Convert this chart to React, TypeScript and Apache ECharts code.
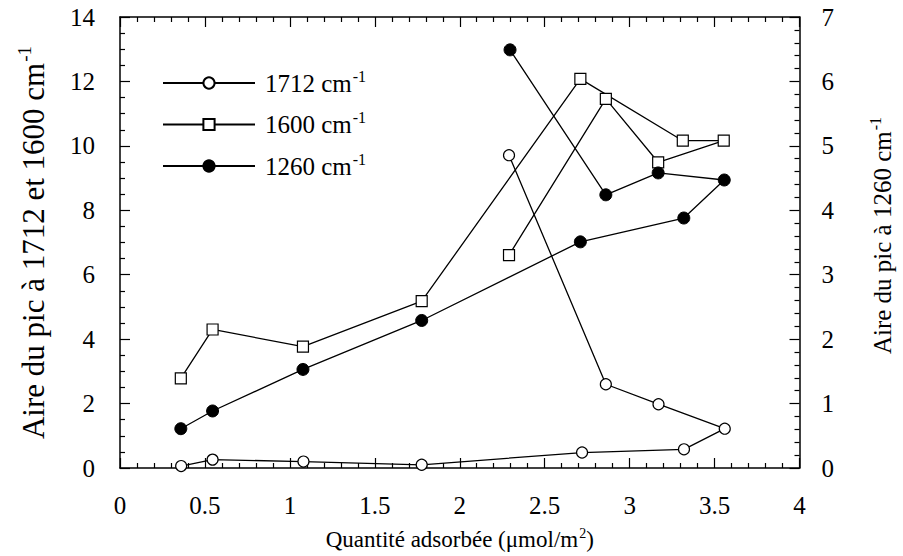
import React, { useEffect, useRef } from "react";
import * as echarts from "echarts";

const xTicks = [0, 0.5, 1, 1.5, 2, 2.5, 3, 3.5, 4];
const leftTicks = [0, 2, 4, 6, 8, 10, 12, 14];
const rightTicks = [0, 1, 2, 3, 4, 5, 6, 7];

const names = ["1712", "1600", "1260"];

const x1712 = [0.36, 0.545, 1.08, 1.776, 2.72, 3.32, 3.56, 3.17, 2.86, 2.29];
const y1712 = [0.06, 0.26, 0.2, 0.1, 0.48, 0.58, 1.22, 1.98, 2.6, 9.71];

const x1600 = [0.358, 0.545, 1.077, 1.776, 2.71, 3.313, 3.554, 3.168, 2.86, 2.29];
const y1600 = [2.78, 4.3, 3.77, 5.18, 12.08, 10.16, 10.16, 9.49, 11.46, 6.61];

const x1260 = [0.358, 0.545, 1.077, 1.776, 2.71, 3.319, 3.557, 3.168, 2.86, 2.296];
const y1260 = [0.61, 0.885, 1.53, 2.29, 3.51, 3.88, 4.47, 4.58, 4.24, 6.49];

const FONT = "'Liberation Serif', 'Times New Roman', serif";

const pairs = (xs: number[], ys: number[]) => xs.map((x, i) => [x, ys[i]]);

const mkRich = (size: number) => ({
  n: { fontFamily: FONT, fontSize: size, color: "#000" },
  s: { fontFamily: FONT, fontSize: Math.round(size * 0.62), color: "#000", padding: [0, 0, Math.round(size * 0.55), 1] },
});

export default function App() {
  const ref = useRef<HTMLDivElement>(null);
  useEffect(() => {
    if (!ref.current) return;
    const chart = echarts.init(ref.current, undefined, { renderer: "svg" });
    const tickStyle = { color: "#000", width: 1.2 };
    const baseX = {
      type: "value" as const,
      min: 0,
      max: 4,
      interval: 0.5,
      splitLine: { show: false },
      axisLine: { show: true, onZero: false, lineStyle: { color: "#000", width: 1.5 } },
      axisTick: { show: true, inside: true, length: 10, lineStyle: tickStyle },
      minorTick: { show: true, splitNumber: 5, length: 5, lineStyle: tickStyle },
    };
    chart.setOption({
      animation: false,
      backgroundColor: "#fff",
      textStyle: { fontFamily: FONT },
      grid: { left: 120, right: 102, top: 17, bottom: 88, containLabel: false },
      legend: {
        orient: "vertical",
        left: 157,
        top: 63,
        itemWidth: 92,
        itemHeight: 14,
        itemGap: 14,
        data: names,
        formatter: (name: string) => `{n|${name} cm}{s|-1}`,
        textStyle: { fontFamily: FONT, fontSize: 25, color: "#000", padding: [0, 0, 0, 5], rich: mkRich(25) },
      },
      xAxis: [
        {
          ...baseX,
          position: "bottom",
          name: "{n|Quantité adsorbée (μmol/m}{s|2}{n|)}",
          nameLocation: "middle",
          nameGap: 58,
          nameTextStyle: { fontFamily: FONT, fontSize: 23, color: "#000", rich: mkRich(23) },
          axisLabel: {
            show: true,
            margin: 25,
            fontFamily: FONT,
            fontSize: 25,
            color: "#000",
            formatter: (v: number) => (xTicks.includes(v) ? String(v) : ""),
          },
        },
        {
          ...baseX,
          position: "top",
          axisLabel: { show: false },
        },
      ],
      yAxis: [
        {
          type: "value",
          min: 0,
          max: 14,
          interval: 2,
          position: "left",
          splitLine: { show: false },
          axisLine: { show: true, onZero: false, lineStyle: { color: "#000", width: 1.5 } },
          axisTick: { show: true, inside: true, length: 10, lineStyle: tickStyle },
          minorTick: { show: true, splitNumber: 4, length: 5, lineStyle: tickStyle },
          axisLabel: {
            margin: 25,
            fontFamily: FONT,
            fontSize: 25,
            color: "#000",
            formatter: (v: number) => (leftTicks.includes(v) ? String(v) : ""),
          },
          name: "{n|Aire du pic à 1712 et 1600 cm}{s|-1}",
          nameLocation: "middle",
          nameRotate: 90,
          nameGap: 69,
          nameTextStyle: { fontFamily: FONT, fontSize: 31, color: "#000", rich: mkRich(31) },
        },
        {
          type: "value",
          min: 0,
          max: 7,
          interval: 1,
          position: "right",
          splitLine: { show: false },
          axisLine: { show: true, onZero: false, lineStyle: { color: "#000", width: 1.5 } },
          axisTick: { show: true, inside: true, length: 10, lineStyle: tickStyle },
          minorTick: { show: true, splitNumber: 5, length: 5, lineStyle: tickStyle },
          axisLabel: {
            margin: 22,
            fontFamily: FONT,
            fontSize: 25,
            color: "#000",
            formatter: (v: number) => (rightTicks.includes(v) ? String(v) : ""),
          },
          name: "{n|Aire du pic à 1260 cm}{s|-1}",
          nameLocation: "middle",
          nameRotate: 90,
          nameGap: 68,
          nameTextStyle: { fontFamily: FONT, fontSize: 25, color: "#000", padding: [0, 0, 0, 14], rich: mkRich(25) },
        },
      ],
      series: [
        {
          name: names[0],
          type: "line",
          xAxisIndex: 0,
          yAxisIndex: 0,
          data: pairs(x1712, y1712),
          symbol: "circle",
          symbolSize: 11,
          lineStyle: { color: "#000", width: 1.3 },
          itemStyle: { color: "#fff", borderColor: "#000", borderWidth: 1.2 },
        },
        {
          name: names[1],
          type: "line",
          xAxisIndex: 0,
          yAxisIndex: 0,
          data: pairs(x1600, y1600),
          symbol: "rect",
          symbolSize: 11,
          lineStyle: { color: "#000", width: 1.3 },
          itemStyle: { color: "#fff", borderColor: "#000", borderWidth: 1.2 },
        },
        {
          name: names[2],
          type: "line",
          xAxisIndex: 0,
          yAxisIndex: 1,
          data: pairs(x1260, y1260),
          symbol: "circle",
          symbolSize: 12,
          lineStyle: { color: "#000", width: 1.3 },
          itemStyle: { color: "#000", borderColor: "#000", borderWidth: 1 },
        },
      ],
    });
    return () => chart.dispose();
  }, []);
  return <div ref={ref} style={{ position: "absolute", left: 0, top: 0, width: 903, height: 556 }} />;
}
